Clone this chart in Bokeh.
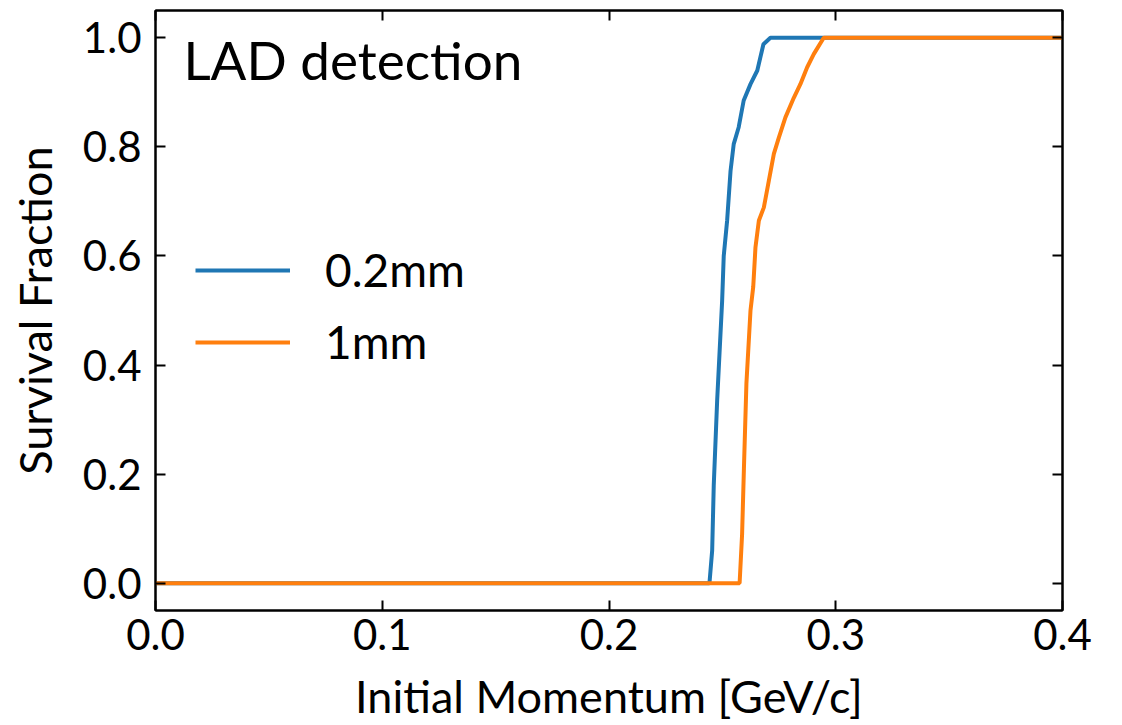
from bokeh.plotting import figure
from bokeh.models import LinearAxis, Label, Legend, LegendItem, Range1d, FixedTicker, NumeralTickFormatter
from bokeh.embed import file_html
from bokeh.resources import INLINE

# Blue: 0.2mm thickness
x_02 = [0.0, 0.2443, 0.2455, 0.2462, 0.2477, 0.2499, 0.2506, 0.2521, 0.2536, 0.2550,
        0.2572, 0.2594, 0.2624, 0.2654, 0.2681, 0.2712, 0.4]
y_02 = [0.0, 0.0, 0.06, 0.18, 0.335, 0.518, 0.60, 0.665, 0.756, 0.805,
        0.836, 0.885, 0.915, 0.94, 0.988, 1.0, 1.0]

# Orange: 1mm thickness
x_1 = [0.0, 0.2576, 0.2587, 0.2595, 0.2606, 0.2624, 0.2636, 0.2646, 0.2661, 0.2683,
       0.2705, 0.2727, 0.2749, 0.2778, 0.2815, 0.2844, 0.2874, 0.2903, 0.2947, 0.4]
y_1 = [0.0, 0.0, 0.09, 0.21, 0.366, 0.5, 0.543, 0.616, 0.665, 0.689,
       0.738, 0.787, 0.817, 0.854, 0.89, 0.915, 0.946, 0.97, 1.0, 1.0]

x_ticks = [0.0, 0.1, 0.2, 0.3, 0.4]
y_ticks = [0.0, 0.2, 0.4, 0.6, 0.8, 1.0]

FONT = "Lato"

p = figure(width=1106, height=725, output_backend="svg", toolbar_location=None,
           x_range=Range1d(0.0, 0.4), y_range=Range1d(-0.05, 1.05),
           min_border_left=155, min_border_right=44, min_border_top=10, min_border_bottom=100)
p.grid.visible = False
p.outline_line_color = "black"
p.outline_line_width = 2
p.background_fill_color = "white"

r1 = p.line(x_02, y_02, line_color="#1f77b4", line_width=4)
r2 = p.line(x_1, y_1, line_color="#ff7f0e", line_width=4)

def style(ax, labels=True):
    ax.axis_line_width = 2
    ax.major_tick_in = 10
    ax.major_tick_out = 0
    ax.major_tick_line_width = 2
    ax.minor_tick_line_color = None
    ax.major_label_text_font = FONT
    ax.major_label_text_font_size = "42px"
    ax.major_label_text_color = "black"
    ax.axis_label_text_font = FONT
    ax.axis_label_text_font_size = "45px"
    ax.axis_label_text_font_style = "normal"
    ax.axis_label_text_color = "black"
    ax.formatter = NumeralTickFormatter(format="0.0")
    if not labels:
        ax.major_label_text_font_size = "0px"
        ax.major_label_text_color = None

p.xaxis.ticker = FixedTicker(ticks=x_ticks)
p.yaxis.ticker = FixedTicker(ticks=y_ticks)
p.xaxis.axis_label = "Initial Momentum [GeV/c]"
p.yaxis.axis_label = "Survival Fraction"
p.xaxis.major_label_standoff = 8
p.yaxis.major_label_standoff = 14
p.xaxis.axis_label_standoff = 16
p.yaxis.axis_label_standoff = 18
style(p.xaxis[0])
style(p.yaxis[0])

top = LinearAxis(ticker=FixedTicker(ticks=x_ticks))
right = LinearAxis(ticker=FixedTicker(ticks=y_ticks))
style(top, False)
style(right, False)
top.major_label_standoff = 0
right.major_label_standoff = 0
p.add_layout(top, "above")
p.add_layout(right, "right")

p.add_layout(Label(x=0.0123, y=0.96, text="LAD detection", text_font=FONT,
                   text_font_size="53px", text_baseline="alphabetic", text_color="black"))

legend = Legend(items=[LegendItem(label="0.2mm", renderers=[r1]),
                       LegendItem(label="1mm", renderers=[r2])],
                location=(40, 241), border_line_color=None, background_fill_alpha=0,
                padding=0, margin=0, glyph_width=95, glyph_height=50, label_height=50,
                spacing=17, label_standoff=35, label_text_font=FONT,
                label_text_font_size="46px", label_text_color="black")
p.add_layout(legend, "center")

open("out.html", "w").write(file_html(p, INLINE))
